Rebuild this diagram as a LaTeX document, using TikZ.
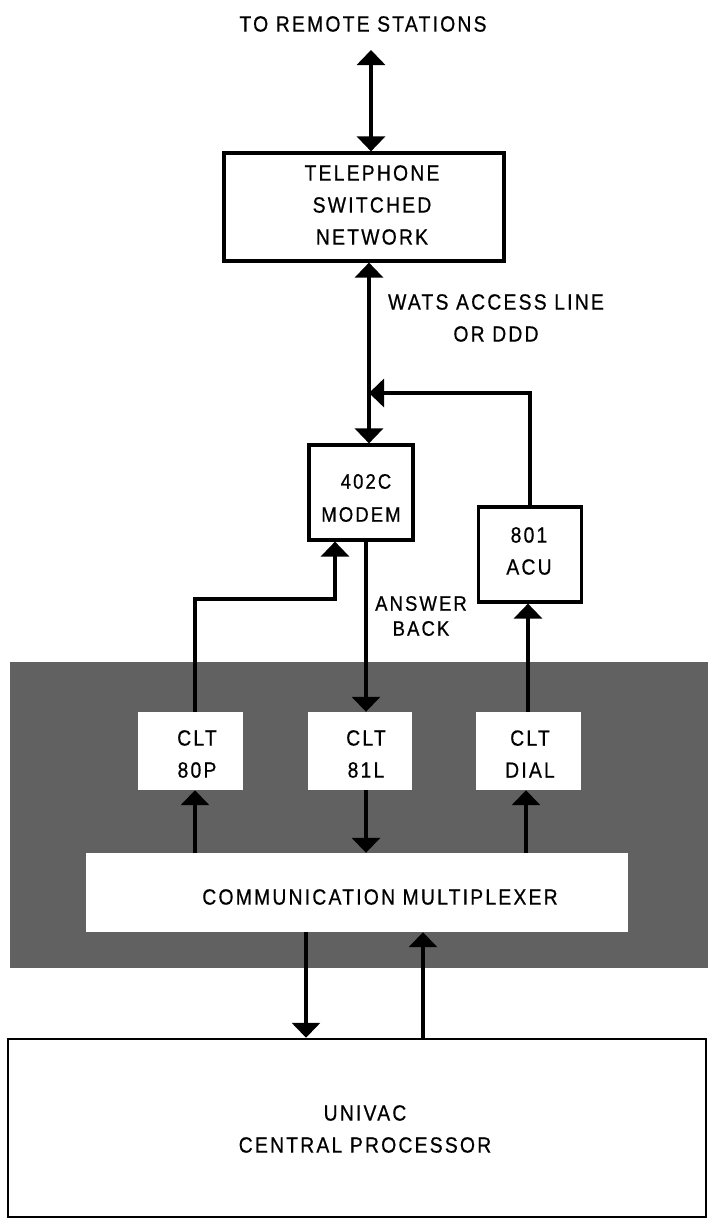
\documentclass[tikz,border=0pt]{standalone}
\usepackage{fontspec}
\setmainfont{Liberation Sans}[LetterSpace=10, FakeStretch=0.88, FakeBold=0.6]
\usetikzlibrary{arrows.meta}
\begin{document}
\begin{tikzpicture}[x=1pt,y=-1pt,
  lbl/.style={font=\fontsize{22}{32}\selectfont, align=center, inner sep=0pt},
  box/.style={draw, line width=3.2pt, inner sep=0pt, fill=white},
  wbox/.style={fill=white, inner sep=0pt},
  con/.style={line width=3.4pt},
  tip/.style={-{Triangle[width=28pt,length=15pt]}},
  tips/.style={{Triangle[width=28pt,length=15pt]}-{Triangle[width=28pt,length=15pt]}}
]
\useasboundingbox (0,0) rectangle (710,1226);
% shaded panel
\fill[black!62] (10,662) rectangle (708,968);

% top
\node[lbl] (remote) at (363,24) {TO REMOTE STATIONS};
\coordinate (rtop) at (371,50);
\node[box, minimum width=280pt, minimum height=108pt] (tel) at (364,207) {};
\node[lbl] (teltext) at (372,205) {TELEPHONE\\SWITCHED\\NETWORK};
\draw[con,tips] (rtop) -- (tel.north -| rtop);

\node[lbl] (wats) at (496,318) {WATS ACCESS LINE\\OR DDD};

\node[box, minimum width=104pt, minimum height=95pt] (modem) at (361,492.5) {};
\node[lbl, font=\fontsize{21}{33}\selectfont] (modemtext) at (361,498) {\hspace*{10pt}402C\\MODEM};
\node[box, minimum width=103pt, minimum height=95pt] (acu) at (530,554.5) {};
\node[lbl] (acutext) at (529,551) {801\\ACU};

\coordinate (join) at (369,393);
\draw[con,tips] (tel.south -| join) -- (modem.north -| join);
\draw[con,tip] (acu.north) |- (join);

% CLT boxes
\node[wbox, minimum width=105pt, minimum height=78pt] (p80) at (190.5,751) {};
\node[lbl] (p80text) at (197,754) {CLT\\80P};
\node[wbox, minimum width=104pt, minimum height=78pt] (l81) at (360,751) {};
\node[lbl] (l81text) at (366,754) {CLT\\81L};
\node[wbox, minimum width=105pt, minimum height=78pt] (dial) at (528.5,751) {};
\node[lbl] (dialtext) at (530,754) {CLT\\DIAL};

\coordinate (bend) at (335,599);
\coordinate (xa) at (366,0);
\draw[con,tip] (p80.north -| 195,0) |- (bend) -- (bend |- modem.south);
\draw[con,tip] (modem.south -| xa) -- (l81.north -| xa);
\node[lbl, font=\fontsize{21}{25}\selectfont] (ab) at (421,616) {ANSWER\\BACK};
\draw[con,tip] (dial.north -| 528,0) -- (acu.south -| 528,0);

% multiplexer
\node[wbox, minimum width=542pt, minimum height=79pt] (mux) at (357,892.5) {};
\node[lbl] (muxtext) at (380,897) {COMMUNICATION MULTIPLEXER};
\draw[con,tip] (mux.north -| 195,0) -- (p80.south -| 195,0);
\draw[con,tip] (l81.south -| xa) -- (mux.north -| xa);
\draw[con,tip] (mux.north -| 526,0) -- (dial.south -| 526,0);

% central processor
\node[box, line width=2.5pt, minimum width=698pt, minimum height=178pt] (cpu) at (357,1128) {};
\node[lbl] (cputext) at (365,1129) {UNIVAC\\CENTRAL PROCESSOR};
\coordinate (xd) at (306,0);
\coordinate (xu) at (423,0);
\draw[con,tip] (mux.south -| xd) -- (cpu.north -| xd);
\draw[con,tip] (cpu.north -| xu) -- (mux.south -| xu);
\end{tikzpicture}
\end{document}
